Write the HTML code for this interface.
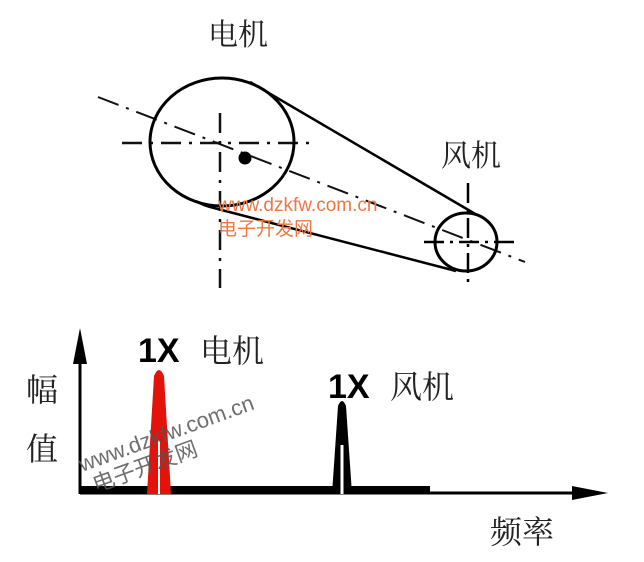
<!DOCTYPE html>
<html><head><meta charset="utf-8"><style>
html,body{margin:0;padding:0;background:#fff;}
svg{display:block;}
text{font-family:"Liberation Sans","Noto Sans CJK SC",sans-serif;}
.s{font-family:"Liberation Serif","Noto Serif CJK SC",serif;}
</style></head><body>
<svg width="644" height="562" viewBox="0 0 644 562" xmlns="http://www.w3.org/2000/svg">
<rect width="644" height="562" fill="#fff"/>
<text class="s" x="208" y="45" font-size="30" fill="#222">电机</text>
<text class="s" x="441" y="166" font-size="30" fill="#222">风机</text>
<line x1="98" y1="97" x2="525" y2="262" stroke="#111" stroke-width="2" stroke-dasharray="22,8,3,8"/>
<line x1="122" y1="143" x2="312" y2="143" stroke="#111" stroke-width="2.5" stroke-dasharray="20,8,3,8"/>
<line x1="220" y1="113" x2="220" y2="288" stroke="#111" stroke-width="2.5" stroke-dasharray="20,8,3,8"/>
<ellipse cx="222" cy="142" rx="72" ry="64" fill="none" stroke="#000" stroke-width="3"/>
<circle cx="245" cy="158" r="6.5" fill="#000"/>
<line x1="250" y1="82" x2="477" y2="215" stroke="#000" stroke-width="2.5"/>
<path d="M196 201 Q204 206 214 208 L456 271" fill="none" stroke="#000" stroke-width="2.5"/>
<ellipse cx="466" cy="242" rx="31" ry="29" fill="none" stroke="#000" stroke-width="3"/>
<line x1="468" y1="183" x2="468" y2="288" stroke="#000" stroke-width="2.5" stroke-dasharray="20,6,3,6"/>
<line x1="424" y1="242" x2="520" y2="242" stroke="#000" stroke-width="2.5" stroke-dasharray="20,6,3,6"/>
<text x="218" y="211" font-size="19" fill="#ee7744">www.dzkfw.com.cn</text>
<text x="218" y="235" font-size="19" fill="#ee7744">电子开发网</text>
<text class="s" x="26" y="401" font-size="32" fill="#222">幅</text>
<text class="s" x="26" y="460" font-size="32" fill="#222">值</text>
<line x1="80" y1="350" x2="80" y2="494" stroke="#000" stroke-width="3"/>
<polygon points="80,328 73,364 87,364" fill="#000"/>
<line x1="80" y1="493" x2="580" y2="493" stroke="#000" stroke-width="3"/>
<polygon points="608,493 572,486 572,500" fill="#000"/>
<rect x="80" y="486" width="350" height="8" fill="#000"/>
<path d="M147 494 L154 376 Q159 364 164 376 L171 494 Z" fill="#e3120b"/>
<line x1="159" y1="440" x2="159" y2="494" stroke="#fff" stroke-width="2"/>
<path d="M332 494 L338 406 Q342 396 346 406 L352 494 Z" fill="#000"/>
<line x1="342" y1="445" x2="342" y2="494" stroke="#fff" stroke-width="3"/>
<text x="138" y="362" font-size="34" font-weight="bold" fill="#000">1X</text>
<text class="s" x="200" y="362" font-size="32" fill="#222">电机</text>
<text x="328" y="398" font-size="34" font-weight="bold" fill="#000">1X</text>
<text class="s" x="390" y="398" font-size="32" fill="#222">风机</text>
<text class="s" x="490" y="543" font-size="32" fill="#222">频率</text>
<g transform="translate(82,472) rotate(-20)" fill="#555" opacity="0.85">
<text x="0" y="0" font-size="22">www.dzkfw.com.cn</text>
<text x="6" y="24" font-size="22">电子开发网</text>
</g>
</svg>
</body></html>
